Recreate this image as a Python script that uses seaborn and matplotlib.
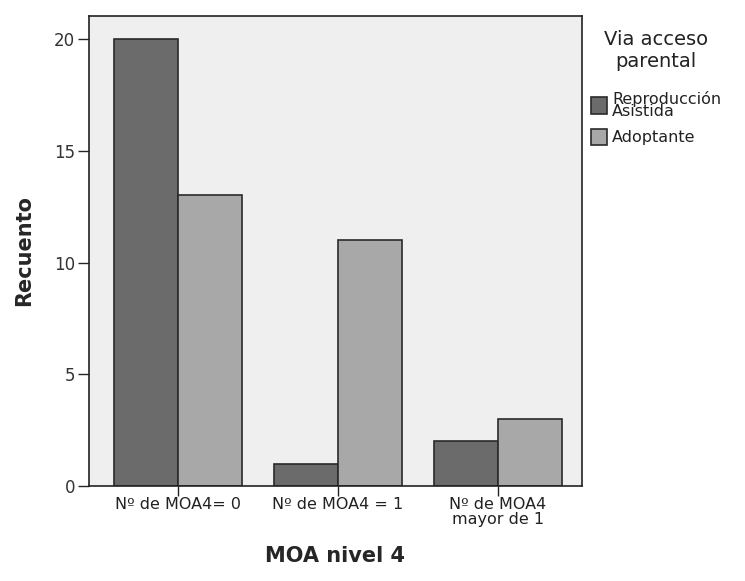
import matplotlib
matplotlib.use("Agg")
import matplotlib.pyplot as plt
import seaborn as sns
import pandas as pd

categories = ["Nº de MOA4= 0", "Nº de MOA4 = 1", "Nº de MOA4\nmayor de 1"]
groups = ["Reproducción\nAsistida", "Adoptante"]
reproduccion = [20, 1, 2]
adoptante = [13, 11, 3]
yticks = [0, 5, 10, 15, 20]

df = pd.DataFrame({
    "cat": categories * 2,
    "grupo": [groups[0]] * 3 + [groups[1]] * 3,
    "n": reproduccion + adoptante,
})

sns.set_style("white")
plt.rcParams["font.family"] = ["DejaVu Sans"]

fig = plt.figure(figsize=(7.45, 5.81), dpi=100)
ax = fig.add_axes([0.1195, 0.1635, 0.6615, 0.809])
ax.set_facecolor("#efefef")

sns.barplot(data=df, x="cat", y="n", hue="grupo", order=categories, hue_order=groups,
            palette=["#6b6b6b", "#a8a8a8"], width=0.8, edgecolor="#2a2a2a",
            linewidth=1.2, saturation=1, ax=ax, errorbar=None)

ax.set_xlim(-0.556, 2.525)
ax.set_ylim(0, 21.03)
ax.set_yticks(yticks)
ax.set_yticklabels([str(t) for t in yticks], fontsize=12, color="#333333")
ax.tick_params(axis="x", labelsize=11.5, labelcolor="#222222", length=7, width=1, direction="out", bottom=True, pad=1)
ax.tick_params(axis="y", length=8, width=1, direction="out", left=True, pad=2)
for lbl in ax.get_xticklabels():
    lbl.set_linespacing(0.95)
for s in ax.spines.values():
    s.set_color("#222222")
    s.set_linewidth(1.2)

ax.set_ylabel("Recuento", fontsize=15, fontweight="bold", labelpad=14)
ax.set_xlabel("MOA nivel 4", fontsize=15, fontweight="bold", labelpad=14)

leg = ax.legend(title="Via acceso\nparental", loc="upper left", bbox_to_anchor=(1.0, 0.99),
                frameon=False, fontsize=11.5, title_fontsize=14, handlelength=1.0,
                handleheight=1.2, handletextpad=0.3, labelspacing=0.6, borderaxespad=0.2)
leg._legend_box.align = "center"
leg._legend_box.sep = 14
leg.get_title().set_multialignment("center")
leg.get_title().set_color("#222222")
for t in leg.get_texts():
    t.set_linespacing(0.8)
    t.set_color("#222222")

fig.savefig("out.png", dpi=100)
